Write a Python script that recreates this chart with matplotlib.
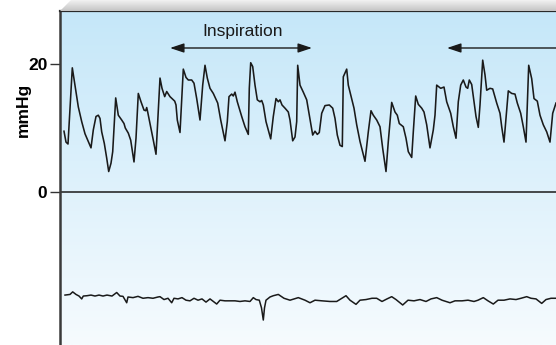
import numpy as np
import matplotlib
matplotlib.use("Agg")
import matplotlib.pyplot as plt
from matplotlib.patches import Polygon

plt.rcParams['font.family'] = ['Liberation Sans', 'DejaVu Sans']

# pressure trace, time in arbitrary units, value in mmHg
press_t = [4, 6, 8, 12.3, 15, 18.3, 21.7, 25, 28.3, 31, 33.3, 36, 38.3, 40, 41.7, 44.3, 46.7, 48.7,
           51, 52.7, 55.7, 58.3, 61.7, 64, 65.3, 68.3, 70.7, 74, 76, 78.3, 81, 84, 85.7, 86.7, 87.7,
           90, 93.3, 96, 100, 102, 104.7, 106.7, 110, 114.7, 116, 117.3, 120, 123.3, 126, 128.3,
           131.7, 134, 136.7, 140, 142.7, 145, 147.3, 150, 153.3, 157.7, 160.7, 165, 167.3, 169,
           171.7, 173.3, 175, 177.3, 181.7, 185, 188.3, 189.3, 190.7, 192.7, 195, 197.3, 200, 201.7,
           203.3, 206, 208.3, 210.7, 213.3, 216, 218.3, 220, 222, 225, 228.3, 230, 232.7, 235, 236.7,
           237.7, 240, 243.3, 246.7, 249.3, 252.7, 255, 257.3, 259.3, 261.7, 265, 269.3, 272.7, 275,
           277.3, 280, 282.3, 283.3, 286.7, 288.3, 290.7, 294, 296.7, 300, 305, 308.3, 311, 313.3,
           316.7, 320, 322.7, 326, 328.3, 331.7, 335, 337.3, 339.3, 343.3, 346, 348.3, 351.7, 353.3,
           355.7, 358.3, 361.7, 364, 366.7, 370, 373.3, 375, 376.7, 380.7, 384, 386.7, 390.7, 393.3,
           396, 398.3, 400.7, 403.3, 406, 407.7, 409.3, 411.7, 414, 416, 418.3, 420, 422.7, 425,
           426.7, 430, 432.7, 436.7, 440, 441.7, 444, 446, 448.3, 451.7, 455, 457.3, 460.7, 463.3,
           466, 467.3, 468.7, 471.7, 474, 477.3, 480, 483.3, 486.7, 490, 492.7, 496]
press_v = [9.5, 7.8, 7.5, 19.4, 16.7, 13.3, 11.0, 9.1, 7.9, 6.9, 9.7, 11.8, 12.0, 11.5, 9.4, 7.6, 5.3, 3.2,
           4.5, 6.3, 14.7, 12.0, 11.25, 10.7, 10.0, 9.2, 8.1, 4.7, 8.4, 15.4, 14.1, 12.8, 12.7, 13.2, 12.5,
           10.7, 8.1, 5.9, 17.8, 16.2, 14.9, 15.7, 14.9, 14.2, 13.6, 11.25, 9.3, 19.2, 17.9, 17.5,
           17.5, 17.0, 14.6, 11.25, 16.7, 19.8, 17.8, 16.2, 15.4, 13.9, 11.25, 8.0, 11.0, 14.9,
           15.3, 15.0, 15.6, 14.1, 11.8, 10.2, 9.0, 16.2, 20.2, 19.6, 16.7, 14.4, 14.1, 14.3,
           13.6, 11.0, 9.7, 8.3, 11.8, 14.6, 14.1, 14.4, 13.6, 13.1, 12.5, 11.25, 8.0, 8.6, 11.0,
           19.8, 16.7, 15.6, 14.4, 12.0, 8.9, 9.5, 9.0, 9.3, 12.3, 13.5, 13.6, 13.1, 11.5,
           8.9, 7.3, 7.1, 18.0, 19.2, 16.7, 15.2, 13.1, 10.5, 7.9, 4.8, 9.4, 12.7, 12.0,
           11.25, 10.2, 6.8, 3.2, 7.9, 14.0, 12.5, 12.0, 10.7, 10.2, 8.4, 6.3, 5.4, 9.4,
           15.0, 13.7, 13.1, 12.5, 10.5, 6.9, 9.7, 12.0, 16.7, 16.2, 16.4, 14.1, 12.3, 10.2,
           8.4, 14.1, 16.7, 17.5, 16.4, 16.2, 17.5, 16.8, 14.1, 11.8, 10.1, 13.6, 20.6, 18.3,
           15.9, 16.2, 16.1, 13.9, 12.3, 10.2, 7.8, 11.5, 15.8, 15.4, 15.3, 13.9, 12.3, 10.2,
           7.8, 13.6, 19.8, 17.7, 14.6, 14.2, 12.0, 10.5, 9.4, 7.8, 12.3, 13.9]

# lower trace (ecg-like)
ecg_t = [5, 10, 12.7, 16, 19, 21.7, 23.3, 27, 31, 35, 39, 43, 47, 52, 56.7, 60, 63, 66.7, 68, 73, 78,
         83, 88, 93, 98, 100, 104, 108, 111.7, 114, 118, 122, 126, 130, 134, 138, 142, 146, 150,
         156.7, 160, 165, 170, 175, 180, 185, 190, 193.3, 196, 199.3, 201.5, 203.3, 204.5, 206,
         210, 213.3, 218.3, 224, 230, 238.3, 245, 250, 255, 262, 270, 276.7, 286, 290, 296, 300,
         306, 312, 316.7, 322, 327, 331.7, 336, 342.7, 348, 354, 360, 366, 371, 376.7, 382, 390,
         395, 402, 408, 414, 418, 423.3, 428, 433.3, 438, 444, 450, 456, 461, 466.7, 471, 476,
         481.7, 486, 491, 496]
ecg_v = [-16.1, -16.0, -15.6, -16.0, -16.25, -16.7, -16.25, -16.2, -16.1, -16.25, -16.1, -16.25, -16.1,
         -16.25, -15.7, -16.25, -16.3, -17.3, -16.4, -16.5, -16.3, -16.6, -16.5, -16.6, -16.4, -16.35,
         -16.8, -16.6, -17.3, -16.6, -16.7, -16.5, -16.9, -17.0, -16.6, -16.9, -16.7, -17.2, -16.7,
         -17.5, -16.9, -17.0, -17.0, -17.0, -17.1, -17.0, -17.1, -16.5, -16.8, -16.9, -18.1, -20.0,
         -18.1, -16.9, -16.4, -16.2, -16.0, -16.6, -16.9, -16.5, -16.9, -17.3, -16.9, -17.0, -17.1,
         -17.1, -16.2, -16.9, -17.55, -16.9, -16.8, -16.6, -16.6, -17.1, -16.7, -16.35, -16.8,
         -17.65, -16.9, -17.0, -16.8, -17.1, -16.7, -16.5, -16.9, -17.3, -17.0, -17.0, -16.9,
         -17.1, -16.9, -16.5, -17.0, -17.5, -16.9, -16.9, -16.7, -16.8, -16.6, -16.35, -16.6,
         -16.7, -17.4, -16.8, -16.6, -16.6]

y_ticks = [0, 20]
y_min, y_max = -23.9, 28.28
x_max = 496

fig = plt.figure(figsize=(5.56, 3.45), dpi=100)
ax = fig.add_axes([60 / 556, 0, 1 - 60 / 556, 334 / 345])

# blue gradient background
top_col = np.array([197, 231, 249]) / 255
bot_col = np.array([246, 251, 254]) / 255
g = np.linspace(0, 1, 256)[:, None]
grad = top_col[None, None, :] * (1 - g[:, :, None]) + bot_col[None, None, :] * g[:, :, None]
ax.imshow(grad, extent=[0, x_max, y_min, y_max], aspect='auto', origin='upper', zorder=0)

ax.plot(press_t, press_v, color='#1a1a1a', lw=1.15, zorder=3)
ax.plot(ecg_t, ecg_v, color='#1a1a1a', lw=1.1, zorder=3)
ax.axhline(0, color='#1a1a1a', lw=1.1, zorder=2)

ax.set_xlim(0, x_max)
ax.set_ylim(y_min, y_max)
ax.set_xticks([])
ax.set_yticks(y_ticks)
ax.set_yticklabels([str(v) for v in y_ticks], fontweight='bold', fontsize=12.5)
ax.tick_params(axis='y', direction='out', length=7, width=1, color='#333333', pad=2)
for s in ['right', 'bottom']:
    ax.spines[s].set_visible(False)
ax.spines['left'].set_linewidth(1.8)
ax.spines['left'].set_color('#3a3a3a')
ax.spines['top'].set_linewidth(1.6)
ax.spines['top'].set_color('#2a2a2a')
ax.set_ylabel('mmHg', fontweight='bold', fontsize=12.5)
ax.yaxis.set_label_coords(-0.058, 0.704)

# inspiration arrows
arw = dict(arrowstyle='<|-|>,head_length=0.6,head_width=0.2', color='#1a1a1a', lw=1.0,
           mutation_scale=14, shrinkA=0, shrinkB=0)
ax.annotate('', xy=(110, 22.5), xytext=(252, 22.5), arrowprops=arw)
arw2 = dict(arw, arrowstyle='-|>,head_length=0.6,head_width=0.2')
ax.annotate('', xy=(387, 22.5), xytext=(520, 22.5), arrowprops=arw2, annotation_clip=False)
ax.text(183, 25.0, 'Inspiration', ha='center', va='center', fontsize=12.5, color='#1a1a1a')

# grey shadow strip above the panel
sh = fig.add_axes([0, 334 / 345, 1, 11 / 345])
sh.set_xlim(0, 556)
sh.set_ylim(0, 11)
sh.axis('off')
c_top = np.array([242, 242, 242]) / 255
c_bot = np.array([196, 196, 196]) / 255
sg_g = np.linspace(0, 1, 64)[:, None, None]
sg = (c_top * (1 - sg_g) + c_bot * sg_g) * np.ones((1, 2, 1))
im = sh.imshow(sg, extent=[0, 556, 0, 11], aspect='auto', origin='upper')
clip = Polygon([(60, 0), (71, 11), (556, 11), (556, 0)], closed=True, transform=sh.transData)
im.set_clip_path(clip)

fig.savefig('out.png', dpi=100)
